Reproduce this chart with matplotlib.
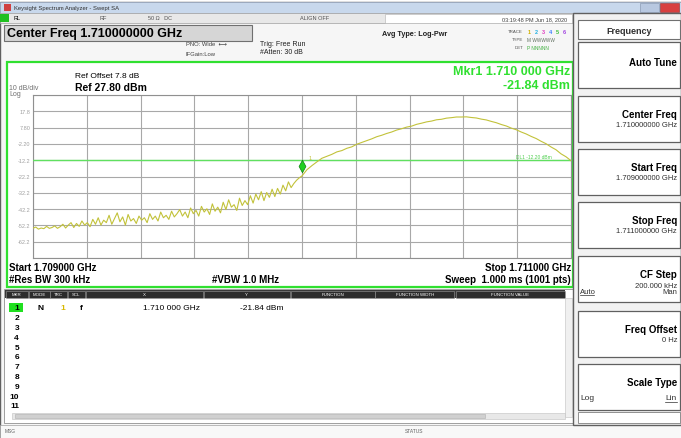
import numpy as np
import matplotlib.pyplot as plt
from matplotlib.patches import Rectangle
from matplotlib.path import Path
import matplotlib.transforms as mtransforms

plt.rcParams['font.family'] = ['Liberation Sans', 'DejaVu Sans']

start_ghz = 1.709
center_ghz = 1.710
stop_ghz = 1.711
ref_level = 27.80
db_per_div = 10
# lower half of the span (noisy), read finely
lower_dbm = [
    -54, -53.2, -54.5, -53.8, -54.2, -52.8, -54, -53.5, -52.5, -54,
    -53, -51.5, -53.8, -52, -50.5, -53.5, -51, -52.8, -49.5, -52,
    -50.5, -53, -48.5, -51.5, -47.5, -52, -49, -50.5, -46, -51.5,
    -48, -44.5, -50, -47, -52, -45.5, -49.5, -48, -51, -46.5,
    -49, -47.5, -50.5, -45, -48.5, -46.5, -49.5, -44, -47.5, -46,
    -48.5, -43.5, -47, -45, -42.5, -46.5, -44, -47.5, -41.5, -45,
    -43, -46.5, -40.5, -44, -42, -45.5, -39, -43.5, -41, -44.5,
    -38, -42.5, -36.5, -41, -39.5, -43, -35.5, -40, -37, -39.5,
    -34, -38.5, -33, -36.5, -31.5, -37, -32, -35, -30, -34.5,
    -29.5, -33, -27.5, -31, -25.5, -29, -26.5, -24.5, -23, -21.84,
]
# upper half of the span (smooth hump)
upper_dbm = [
    -21.84, -18, -15.5, -13.2, -11, -9.8, -8.6, -7.1, -6.3, -4.9,
    -4, -2.4, -1.3, -0.2, 0.9, 2.2, 3.1, 4.2, 5.1, 6.3,
    7.1, 8.1, 8.7, 9.8, 10.5, 11.3, 11.8, 12.6, 12.9, 13.6,
    13.9, 14.3, 14.3, 14.4, 14, 13.7, 13, 12.5, 11.6, 10.8,
    9.7, 8.8, 7.5, 6.5, 5.1, 3.9, 2.4, 1.1, -0.6, -2.1,
    -4.1, -5.8, -8.3, -10.1, -12.5,
]
mkr_freq = 1.710
mkr_level = -21.84
display_line = -12.2
ytick_labels = ["17.8", "7.80", "-2.20", "-12.2", "-22.2", "-32.2", "-42.2", "-52.2", "-62.2"]
softkeys = [
    ("Auto Tune", None),
    ("Center Freq", "1.710000000 GHz"),
    ("Start Freq", "1.709000000 GHz"),
    ("Stop Freq", "1.711000000 GHz"),
    ("CF Step", "200.000 kHz"),
    ("Freq Offset", "0 Hz"),
    ("Scale Type", None),
]
table_cols = ["MKR", "MODE", "TRC", "SCL", "X", "Y", "FUNCTION", "FUNCTION WIDTH", "FUNCTION VALUE"]

W, H = 681, 439
fig = plt.figure(figsize=(W / 100, H / 100), dpi=100)
fig.patch.set_facecolor('white')


def box(x0, y0, x1, y1, fc='none', ec='#808080', lw=0.8, z=0):
    fig.add_artist(Rectangle((x0 / W, 1 - y1 / H), (x1 - x0) / W, (y1 - y0) / H,
                             transform=fig.transFigure, fc=fc, ec=ec, lw=lw, zorder=z))


def txt(x, y, s, size=6, ha='left', weight='normal', color='black', **kw):
    fig.text(x / W, 1 - y / H, s, fontsize=size, ha=ha, va='center',
             weight=weight, color=color, **kw)


# window frame
box(0, 3, 681, 439, fc='#f6f6f6', ec='#606060', lw=1)
# title bar
box(0, 3, 681, 14, fc='#c8d8ec', ec='#a0b0c8', lw=0.5)
txt(14, 8.5, "Keysight Spectrum Analyzer - Swept SA", size=4.2, color='#303030')
box(4, 5, 11, 12, fc='#d04040', ec='none')
box(640, 4, 659, 13, fc='#b8c8e0', ec='#8090a8', lw=0.4)
box(660, 4, 679, 13, fc='#d84040', ec='#903030', lw=0.4)
# status bar
box(0, 14, 681, 24, fc='#e8e8e8', ec='#a0a0a0', lw=0.5)
box(0, 15, 9, 23, fc='#20c020', ec='none')
txt(14, 19, "RL", size=4)
txt(100, 19, "RF", size=4, color='#505050')
txt(148, 19, "50 Ω   DC", size=4, color='#505050')
txt(300, 19, "ALIGN OFF", size=4, color='#505050')
box(385, 15, 572, 24, fc='white', ec='#b0b0b0', lw=0.4)
txt(567, 19.5, "03:19:48 PM Jun 18, 2020", size=4, ha='right', color='#404040')

# top info
box(4, 26, 252, 42, fc='#d6d6d6', ec='#707070', lw=0.8)
txt(7, 34, "Center Freq 1.710000000 GHz", size=9, weight='bold')
txt(186, 45, "PNO: Wide  ⟷", size=4.2, color='#404040')
txt(186, 54, "IFGain:Low", size=4.2, color='#404040')
txt(260, 44, "Trig: Free Run", size=5, color='#202020')
txt(260, 53, "#Atten: 30 dB", size=5, color='#202020')
txt(382, 34, "Avg Type: Log-Pwr", size=5.2, weight='bold', color='#202020')
txt(523, 32, "TRACE", size=3.2, ha='right', color='#505050')
txt(523, 40, "TYPE", size=3.2, ha='right', color='#505050')
txt(523, 48, "DET", size=3.2, ha='right', color='#505050')
for k, c in enumerate(['#d0b000', '#20b0e0', '#e040c0', '#4080ff', '#40c040', '#a040e0']):
    txt(528 + k * 7, 32, str(k + 1), size=4, color=c, weight='bold')
txt(527, 40, "M WWWWW", size=3.4, color='#607060')
txt(527, 48, "P NNNNN", size=3.4, color='#40b040')

# green screen frame
box(7, 63, 573, 288, fc='white', ec='#30e030', lw=1.6)
txt(75, 77, "Ref Offset 7.8 dB", size=6)
txt(75, 88, "Ref 27.80 dBm", size=7.5, weight='bold')
txt(9, 88, "10 dB/div", size=5, color='#707070')
txt(9, 95, "Log", size=5, color='#707070')
txt(570, 72, "Mkr1 1.710 000 GHz", size=9, ha='right', weight='bold', color='#30e030')
txt(570, 86, "-21.84 dBm", size=9, ha='right', weight='bold', color='#30e030')
txt(9, 268, "Start 1.709000 GHz", size=7, weight='bold')
txt(9, 280, "#Res BW 300 kHz", size=7, weight='bold')
txt(212, 280, "#VBW 1.0 MHz", size=7, weight='bold')
txt(571, 268, "Stop 1.711000 GHz", size=7, ha='right', weight='bold')
txt(571, 280, "Sweep  1.000 ms (1001 pts)", size=7, ha='right', weight='bold')

# trace axes
ax = fig.add_axes([33 / W, 1 - 259 / H, (571 - 33) / W, (259 - 96) / H])
ax.set_facecolor('white')
bottom = ref_level - 10 * db_per_div
ax.set_xlim(start_ghz, stop_ghz)
ax.set_ylim(bottom, ref_level)
ax.set_xticks(np.linspace(start_ghz, stop_ghz, 11))
ax.set_yticks(ref_level - db_per_div * np.arange(0, 11))
ax.grid(True, color='#a8a8a8', lw=0.8)
ax.tick_params(length=0, labelbottom=False, labelleft=False)
for s in ax.spines.values():
    s.set_color('#909090')
    s.set_linewidth(0.8)
for lab, val in zip(ytick_labels, ref_level - db_per_div * np.arange(1, 10)):
    ax.annotate(lab, xy=(0, val), xycoords=('axes fraction', 'data'), xytext=(-2, 0),
                textcoords='offset points', ha='right', va='center', fontsize=4, color='#a0a0a0')

freq = np.concatenate([np.linspace(start_ghz, center_ghz, len(lower_dbm)),
                       np.linspace(center_ghz, stop_ghz, len(upper_dbm))[1:]])
level = np.concatenate([lower_dbm, upper_dbm[1:]])
ax.axhline(display_line, color='#60e060', lw=1.0, zorder=3)
ax.annotate("DL1 -12.20 dBm", xy=(1, display_line), xycoords=('axes fraction', 'data'),
            xytext=(-14, 2.5), textcoords='offset points', ha='right', va='center',
            fontsize=3.5, color='#50d050')
ax.plot(freq, level, color='#c2c23a', lw=0.8, zorder=4)

diamond = Path([(0, 1), (0.55, 0), (0, -1), (-0.55, 0), (0, 1)],
               [Path.MOVETO, Path.LINETO, Path.LINETO, Path.LINETO, Path.CLOSEPOLY])
off = mtransforms.offset_copy(ax.transData, fig=fig, x=0, y=7, units='points')
ax.plot([mkr_freq], [mkr_level], marker=diamond, ms=9, color='#20d020',
        mec='#108010', mew=0.5, transform=off, zorder=5, clip_on=False)
ax.annotate("1", xy=(mkr_freq, mkr_level), xytext=(5, 12), textcoords='offset points',
            fontsize=4, color='#c2c23a')

# marker table
box(4, 290, 573, 424, fc='white', ec='#909090', lw=0.6)
box(5, 291, 565, 299, fc='#383838', ec='none')
col_edges = [5, 28, 50, 67, 85, 203, 290, 375, 455, 565]
for k, name in enumerate(table_cols):
    x0, x1 = col_edges[k], col_edges[k + 1]
    box(x0 + 0.5, 291.5, x1 - 0.5, 298.5, fc='#2c2c2c', ec='#9a9a9a', lw=0.4)
    txt((x0 + x1) / 2, 295, name, size=3.2, ha='center', color='white')
box(9, 304, 23, 313, fc='#20e020', ec='none')
for r in range(11):
    txt(19, 309 + r * 9.8, str(r + 1), size=6, ha='right', weight='bold')
txt(38, 309, "N", size=6, weight='bold')
txt(60, 309, "1", size=6, color='#d8b800', weight='bold')
txt(80, 309, "f", size=6, weight='bold')
txt(200, 309, "1.710 000 GHz", size=6, ha='right')
txt(283, 309, "-21.84 dBm", size=6, ha='right')
box(565, 299, 572, 418, fc='#f0f0f0', ec='#c0c0c0', lw=0.4)
box(12, 414, 565, 420, fc='#e8e8e8', ec='#c0c0c0', lw=0.4)
box(15, 415, 485, 419, fc='#d0d0d0', ec='#b0b0b0', lw=0.4)

# bottom status line
box(0, 426, 681, 439, fc='#f8f8f8', ec='#a0a0a0', lw=0.5)
txt(5, 432, "MSG", size=3.5, color='#606060')
txt(405, 432, "STATUS", size=3.5, color='#606060')

# right softkey panel
box(573, 14, 681, 426, fc='#f2f2f2', ec='#606060', lw=1.0)
box(578, 21, 680, 40, fc='white', ec='#707070', lw=0.8)
txt(629, 31, "Frequency", size=6.5, ha='center', weight='bold', color='#303030')
key_tops = [43, 97, 150, 203, 257, 312, 365]
for (label, value), y0 in zip(softkeys, key_tops):
    box(578, y0, 680, y0 + 46, fc='white', ec='#606060', lw=0.9)
    if label == "Auto Tune":
        txt(677, y0 + 20, label, size=7, ha='right', weight='bold')
    else:
        txt(677, y0 + 18, label, size=7, ha='right', weight='bold')
    if value is not None:
        txt(677, y0 + 29, value, size=5.5, ha='right', color='#303030')
txt(580, 292, "Auto", size=5.5, color='#303030')
fig.add_artist(plt.Line2D([580 / W, 594 / W], [1 - 296 / H, 1 - 296 / H], color='#303030', lw=0.5))
txt(677, 292, "Man", size=5.5, ha='right', color='#303030')
txt(580, 399, "Log", size=6, color='#303030')
txt(677, 399, "Lin", size=6, ha='right', color='#303030')
fig.add_artist(plt.Line2D([665 / W, 677 / W], [1 - 403 / H, 1 - 403 / H], color='#303030', lw=0.5))
box(578, 413, 680, 424, fc='white', ec='#808080', lw=0.6)

fig.savefig('out.png', dpi=100)
